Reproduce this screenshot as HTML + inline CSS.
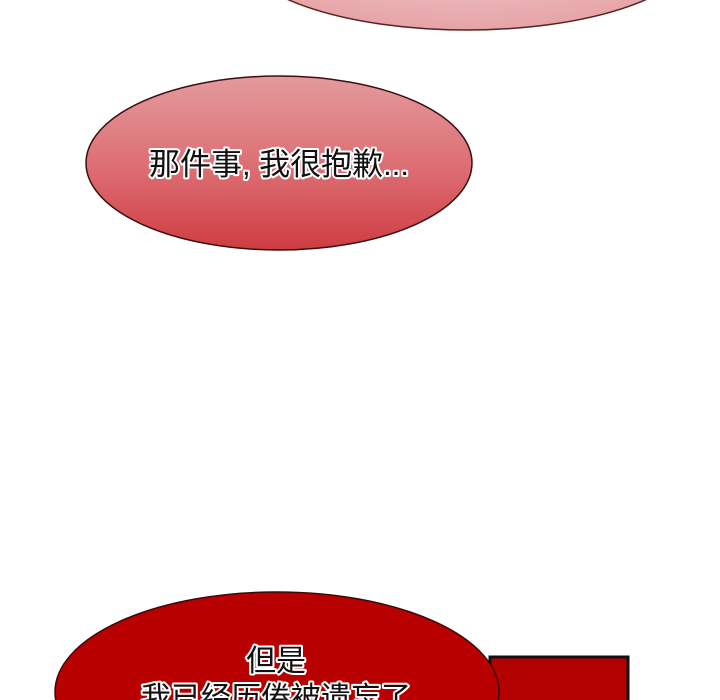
<!DOCTYPE html>
<html><head><meta charset="utf-8">
<style>
html,body{margin:0;padding:0;background:#fff;overflow:hidden;}
#stage{position:relative;width:720px;height:700px;overflow:hidden;background:#fff;}
svg{position:absolute;left:0;top:0;}
text{font-family:"Liberation Sans","Noto Sans CJK SC","WenQuanYi Zen Hei",sans-serif;paint-order:stroke;stroke:#fff;stroke-width:4px;stroke-linejoin:round;fill:#111;}
</style></head>
<body>
<div id="stage">
<svg width="720" height="700" viewBox="0 0 720 700">
<defs>
<radialGradient id="g1" cx="50%" cy="40%" r="60%">
<stop offset="0%" stop-color="#f4d6d7"/><stop offset="100%" stop-color="#e6a3a7"/>
</radialGradient>
<linearGradient id="g2" x1="0" y1="0" x2="0" y2="1">
<stop offset="0%" stop-color="#e49a9d"/><stop offset="55%" stop-color="#dc6c71"/><stop offset="100%" stop-color="#cf3c42"/>
</linearGradient>
</defs>
<ellipse cx="467" cy="-50" rx="228" ry="80" fill="url(#g1)" stroke="#5a2020" stroke-width="1.5"/>
<ellipse cx="279" cy="163" rx="193" ry="87" fill="url(#g2)" stroke="#3a1010" stroke-width="1.5"/>
<text x="279" y="175" font-size="31" text-anchor="middle">那件事, 我很抱歉...</text>
<rect x="490" y="657" width="138" height="50" fill="#b30000" stroke="#111" stroke-width="3"/>
<ellipse cx="277" cy="692" rx="222" ry="100" fill="#b80000" stroke="#3a0a0a" stroke-width="1.5"/>
<text x="276" y="671" font-size="30" text-anchor="middle">但是</text>
<text x="276" y="708" font-size="30" text-anchor="middle">我已经历倦被遗忘了</text>
</svg>
</div>
</body></html>
